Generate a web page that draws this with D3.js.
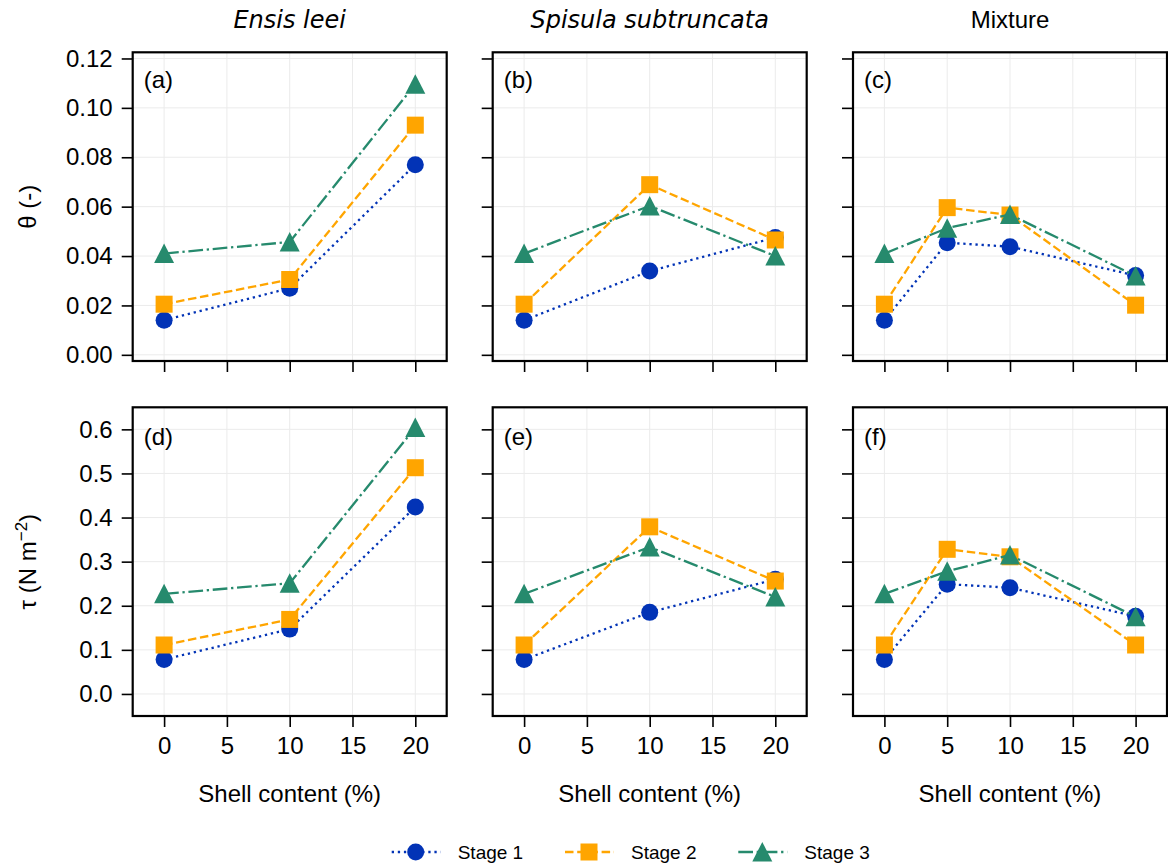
<!DOCTYPE html>
<html>
<head>
<meta charset="utf-8">
<script src="https://cdn.jsdelivr.net/npm/d3@7"></script>
<style>
  body { margin: 0; background: #fff; }
  text { font-family: "Liberation Sans", Arial, sans-serif; fill: #000; }
</style>
</head>
<body>
<div id="chart"></div>
<script>
// Shell content (x) per column
const xEnsis   = [0, 10, 20];
const xSpisula = [0, 10, 20];
const xMixture = [0, 5, 10, 20];

// theta (-)
const thetaEnsisS1   = [0.014, 0.027, 0.077];
const thetaEnsisS2   = [0.0205, 0.0305, 0.093];
const thetaEnsisS3   = [0.041, 0.0457, 0.1096];
const thetaSpisulaS1 = [0.014, 0.0339, 0.0475];
const thetaSpisulaS2 = [0.0205, 0.0689, 0.0465];
const thetaSpisulaS3 = [0.041, 0.0603, 0.040];
const thetaMixS1     = [0.014, 0.0454, 0.0438, 0.0321];
const thetaMixS2     = [0.0205, 0.0596, 0.0566, 0.0201];
const thetaMixS3     = [0.041, 0.0513, 0.0568, 0.0319];

// tau (N m-2), bottom row
const tauEnsisS1   = [0.078, 0.147, 0.424];
const tauEnsisS2   = [0.111, 0.169, 0.513];
const tauEnsisS3   = [0.227, 0.251, 0.604];
const tauSpisulaS1 = [0.078, 0.185, 0.26];
const tauSpisulaS2 = [0.111, 0.379, 0.256];
const tauSpisulaS3 = [0.227, 0.333, 0.220];
const tauMixS1     = [0.078, 0.249, 0.241, 0.176];
const tauMixS2     = [0.111, 0.328, 0.311, 0.111];
const tauMixS3     = [0.227, 0.278, 0.315, 0.175];

const stageNames = ["Stage 1", "Stage 2", "Stage 3"];
const columnTitles = ["Ensis leei", "Spisula subtruncata", "Mixture"];
const panelLetters = ["(a)", "(b)", "(c)", "(d)", "(e)", "(f)"];
const xTicks = [0, 5, 10, 15, 20];
const thetaTicks = [0, 0.02, 0.04, 0.06, 0.08, 0.10, 0.12];
const tauTicks = [0, 0.1, 0.2, 0.3, 0.4, 0.5, 0.6];

// styles
const stageColors = ["#0233b6", "#ffa500", "#268a6d"];
const stageDash = ["2.3,3.8", "8.5,3.7", "14.7,3.7,2.3,3.7"];
const stageShape = ["circle", "square", "triangle"];

const W = 1168, H = 865;
const colLeft = [132.7, 492.7, 853];
const rowTop = [52.3, 407.3];
const pw = 314, ph = 308.7;

const svg = d3.select("#chart").append("svg")
    .attr("width", W).attr("height", H);

const rows = [
    { ticks: thetaTicks, domain: [-0.0025, 0.1225], fmt: d3.format(".2f"),
      data: [[thetaEnsisS1, thetaEnsisS2, thetaEnsisS3],
             [thetaSpisulaS1, thetaSpisulaS2, thetaSpisulaS3],
             [thetaMixS1, thetaMixS2, thetaMixS3]] },
    { ticks: tauTicks, domain: [-0.05, 0.65], fmt: d3.format(".1f"),
      data: [[tauEnsisS1, tauEnsisS2, tauEnsisS3],
             [tauSpisulaS1, tauSpisulaS2, tauSpisulaS3],
             [tauMixS1, tauMixS2, tauMixS3]] }
];
const xs = [xEnsis, xSpisula, xMixture];

function drawMarker(g, shape, color, cx, cy) {
    if (shape === "circle") {
        g.append("circle").attr("cx", cx).attr("cy", cy).attr("r", 8.5).attr("fill", color);
    } else if (shape === "square") {
        g.append("rect").attr("x", cx - 8.5).attr("y", cy - 8.5)
            .attr("width", 17).attr("height", 17).attr("fill", color);
    } else {
        g.append("path")
            .attr("d", `M${cx},${cy - 10}L${cx - 10},${cy + 9.5}L${cx + 10},${cy + 9.5}Z`)
            .attr("fill", color);
    }
}

rows.forEach((row, r) => {
    for (let c = 0; c < 3; c++) {
        const g = svg.append("g")
            .attr("transform", `translate(${colLeft[c]},${rowTop[r]})`);
        const x = d3.scaleLinear().domain([-2.5, 22.5]).range([0, pw]);
        const y = d3.scaleLinear().domain(row.domain).range([ph, 0]);

        // grid
        g.append("g").selectAll("line").data(xTicks).join("line")
            .attr("x1", d => x(d)).attr("x2", d => x(d))
            .attr("y1", 0).attr("y2", ph)
            .attr("stroke", "#ebebeb").attr("stroke-width", 1);
        g.append("g").selectAll("line").data(row.ticks).join("line")
            .attr("y1", d => y(d)).attr("y2", d => y(d))
            .attr("x1", 0).attr("x2", pw)
            .attr("stroke", "#ebebeb").attr("stroke-width", 1);

        // axes
        const yAxis = d3.axisLeft(y).tickValues(row.ticks).tickSize(11).tickPadding(9)
            .tickFormat(c === 0 ? row.fmt : "");
        const xAxis = d3.axisBottom(x).tickValues(xTicks).tickSize(11).tickPadding(10)
            .tickFormat(r === 1 ? d3.format("d") : "");
        const ya = g.append("g").call(yAxis);
        const xa = g.append("g").attr("transform", `translate(0,${ph})`).call(xAxis);
        [ya, xa].forEach(a => {
            a.select(".domain").remove();
            a.selectAll(".tick line").attr("stroke", "#000").attr("stroke-width", 1.6);
            a.selectAll("text").style("font-size", "24px")
                .style("font-family", "'Liberation Sans', Arial, sans-serif").attr("fill", "#000");
        });

        // series
        const line = d3.line().x(d => x(d[0])).y(d => y(d[1]));
        row.data[c].forEach((vals, s) => {
            const pts = xs[c].map((xv, i) => [xv, vals[i]]);
            const sg = g.append("g");
            sg.append("path").attr("d", line(pts))
                .attr("fill", "none").attr("stroke", stageColors[s])
                .attr("stroke-width", 2.3).attr("stroke-dasharray", stageDash[s]);
            pts.forEach(p => drawMarker(sg, stageShape[s], stageColors[s], x(p[0]), y(p[1])));
        });

        // frame
        g.append("rect").attr("width", pw).attr("height", ph)
            .attr("fill", "none").attr("stroke", "#000").attr("stroke-width", 2.2);

        g.append("text").attr("x", 11).attr("y", r === 0 ? 36 : 38)
            .style("font-size", "24px").text(panelLetters[r * 3 + c]);

        if (r === 0) {
            svg.append("text")
                .attr("x", colLeft[c] + pw / 2).attr("y", 28)
                .attr("text-anchor", "middle")
                .style("font-size", "24px")
                .style("font-family", c < 2 ? "'DejaVu Sans', sans-serif" : "'Liberation Sans', Arial, sans-serif")
                .style("font-style", c < 2 ? "italic" : "normal")
                .text(columnTitles[c]);
        } else {
            svg.append("text")
                .attr("x", colLeft[c] + pw / 2).attr("y", 802)
                .attr("text-anchor", "middle")
                .style("font-size", "24px")
                .text("Shell content (%)");
        }
    }
});

// y labels
svg.append("text")
    .attr("transform", `translate(36,${rowTop[0] + ph / 2}) rotate(-90)`)
    .attr("text-anchor", "middle").style("font-size", "24px")
    .text("θ (-)");
const tauLabel = svg.append("text")
    .attr("transform", `translate(36,${rowTop[1] + ph / 2}) rotate(-90)`)
    .attr("text-anchor", "middle").style("font-size", "24px");
tauLabel.append("tspan").text("τ (N m");
tauLabel.append("tspan").attr("dy", -9).style("font-size", "17px").text("−2");
tauLabel.append("tspan").attr("dy", 9).text(")");

// legend
const legendX = [391.7, 565, 738.3];
const legendY = 852;
stageNames.forEach((name, s) => {
    const lg = svg.append("g");
    lg.append("line")
        .attr("x1", legendX[s]).attr("x2", legendX[s] + 49)
        .attr("y1", legendY).attr("y2", legendY)
        .attr("stroke", stageColors[s]).attr("stroke-width", 2.3)
        .attr("stroke-dasharray", stageDash[s]);
    drawMarker(lg, stageShape[s], stageColors[s], legendX[s] + 24, legendY);
    lg.append("text")
        .attr("x", legendX[s] + 66).attr("y", legendY + 7)
        .style("font-size", "19px").text(name);
});
</script>
</body>
</html>
